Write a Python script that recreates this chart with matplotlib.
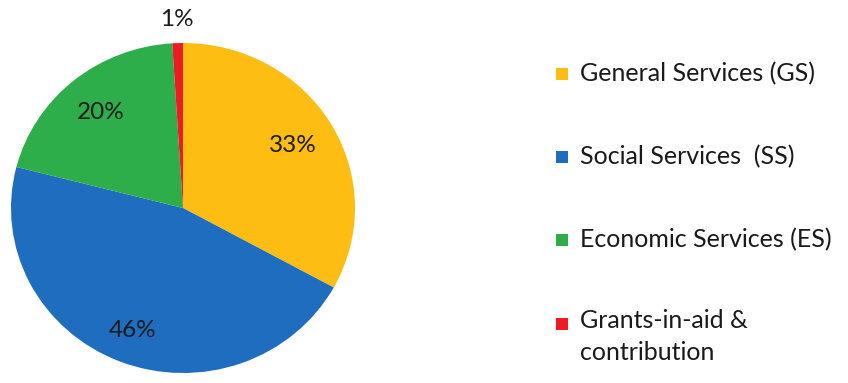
import matplotlib
matplotlib.use("Agg")
import numpy as np
import matplotlib.pyplot as plt
from matplotlib.patches import Rectangle

plt.rcParams['font.family'] = ['Lato', 'DejaVu Sans']

labels = ["General Services (GS)", "Social Services  (SS)",
          "Economic Services (ES)", "Grants-in-aid &\ncontribution"]
shares = [33, 46, 20, 1]
colors = ["#FDBD12", "#1F6DBE", "#2EAD4B", "#EC1C24"]

W, H = 848, 383
fig = plt.figure(figsize=(W / 100, H / 100), dpi=100)

# pie area in pixel terms: centre (183, 208), radii 172 x 165
cx, cy, rx, ry = 183, 208, 172, 165
ax = fig.add_axes([(cx - rx) / W, (H - cy - ry) / H, 2 * rx / W, 2 * ry / H])
wedges, texts = ax.pie(shares, colors=colors, startangle=90, counterclock=False,
                       radius=1.0, wedgeprops=dict(linewidth=0))
ax.set_aspect('auto')
ax.set_xlim(-1, 1)
ax.set_ylim(-1, 1)
ax.axis('off')

# percentage labels
dist = [0.74, 0.80, 0.75, 1.14]
for w, s, d in zip(wedges, shares, dist):
    ang = np.deg2rad((w.theta1 + w.theta2) / 2)
    ax.text(d * np.cos(ang), d * np.sin(ang), f"{s}%", ha='center', va='center',
            fontsize=17.5, color='#1a1a1a', clip_on=False)

# legend entries
rows_y = [74, 157, 240, 324]
for lab, col, y in zip(labels, colors, rows_y):
    fig.patches.append(Rectangle((556 / W, (H - y - 6) / H), 12 / W, 12 / H,
                                 transform=fig.transFigure, facecolor=col,
                                 edgecolor='none'))
    if '\n' in lab:
        fig.text(580 / W, (H - y + 15) / H, lab, ha='left', va='top',
                 fontsize=18, color='#1a1a1a', linespacing=1.5)
    else:
        fig.text(580 / W, (H - y) / H, lab, ha='left', va='center',
                 fontsize=18, color='#1a1a1a')

fig.savefig("out.png", dpi=100)
